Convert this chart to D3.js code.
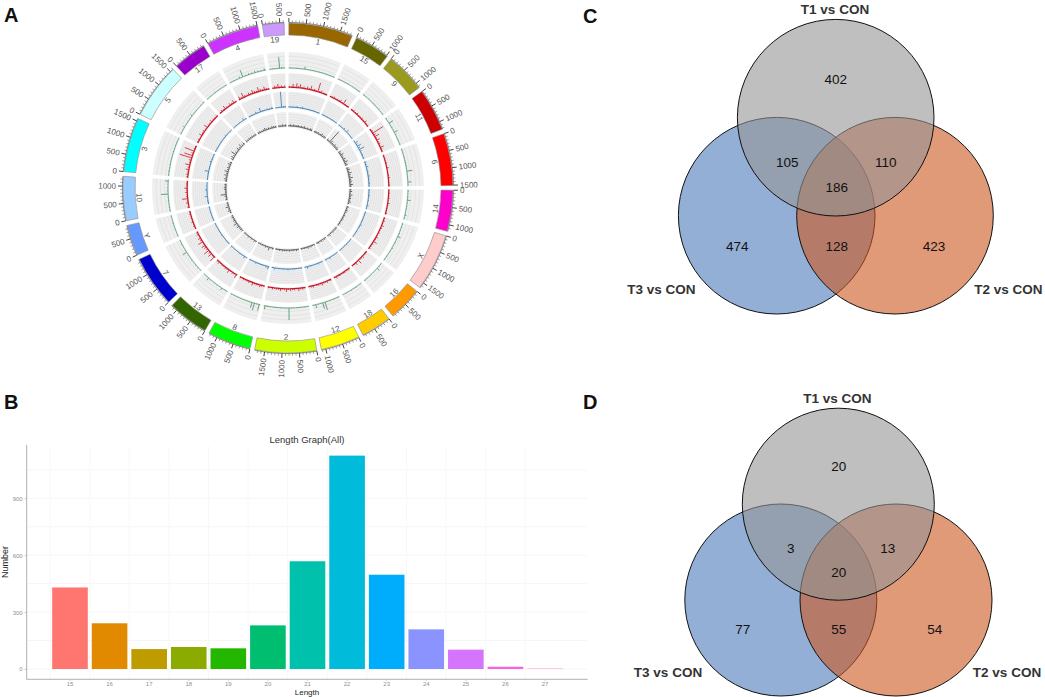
<!DOCTYPE html>
<html>
<head>
<meta charset="utf-8">
<title>Figure</title>
<script src="https://d3js.org/d3.v7.min.js" charset="utf-8"></script>
<style>
*{
	margin: 0;
	padding: 0;
}
body{
	background: #fff;
}
svg{
	display: block;
	font-family: "Liberation Sans", Arial, sans-serif;
}
</style>
</head>
<body>
<script>

// ---- panel A data, clockwise from the top
var chrNames = ['1','15','9','11','6','14','X','16','18','12','2','8','13','7','Y','10','3','5','17','4','19'];
var chrLengths = [1860,1025,1150,1230,1510,1190,1665,985,880,1125,1790,1255,1190,1490,895,1280,1575,1600,970,1520,625];
var chrColors = ['#996600','#666600','#999a1e','#cc0000','#ff0000','#ff00cc','#ffcccc','#ff9900','#ffcc00','#ffff00','#ccff00','#00ff00','#336600','#0000cc','#6699ff','#99ccff','#00ffff','#ccffff','#9900cc','#cc33ff','#cc99ff'];

// peak heights along each chromosome, % of the track height
var greenPeaks = [
	[3,2,4,2,3,16,3,2,4,3,2,3,3,2,4,3],
	[2,4,2,3,4,2,3,4,2,3],
	[3,2,4,3,2,4,2,5,3,2],
	[4,3,30,4,5,3,22,6,3,4,2,4],
	[3,4,2,4,3,6,4,2,35,3,4,3,22,2],
	[4,2,5,20,3,4,3,2,10,4],
	[3,4,2,5,18,3,4,2,6,3,2,4,3],
	[2,4,18,3,2,4,3,2,4],
	[3,2,4,2,4,3,4,2],
	[3,2,4,2,3,4,50,38,3,2,20,3],
	[3,4,2,4,3,2,4,75,3,2,4,3,4,2,3,5,22],
	[40,3,45,35,4,2,3,4,2,4,3,2,3],
	[2,3,14,2,4,3,2,4,18,3,2],
	[2,4,3,2,4,3,4,30,2,3,4,2],
	[3,2,4,3,4,2,4],
	[3,4,2,5,4,45,4,3,2,18],
	[2,4,3,4,2,4,3,5,2,4,3,2],
	[3,2,10,3,4,2,12,3,4,2,3,5],
	[2,4,3,6,4,3,2,4],
	[3,4,4,10,45,5,8,6,12,8,6,12],
	[3,4,3,4,70,8,5]
];
var redPeaks = [
	[10,8,24,6,30,12,26,8,14,6,18,10,28,6,14,8,65,10,16,6,8,5],
	[6,8,12,5,10,8,16,6,34,8,5,10],
	[6,10,8,14,8,6,12,8,18,5,8],
	[6,12,88,16,34,10,22,8,14,6,26,10,5],
	[5,8,4,10,5,14,6,4,8,12,5,6,10],
	[5,8,6,10,5,14,8,5,6,10],
	[8,12,6,16,10,5,10,6,14,8,26,10,6,12],
	[6,10,5,16,8,6,30,5,18,8,5],
	[5,10,6,12,8,5,10,6,16,5],
	[10,6,14,8,10,18,6,12,8,5,14,10,6],
	[8,14,10,20,6,12,10,16,8,22,10,6,18,10,12,8,14,6,10],
	[6,10,16,8,12,10,22,6,14,10,8,12,6,10],
	[26,8,12,6,24,10,14,8,10,6,16,10],
	[40,10,30,14,42,12,18,28,8,36,12,20,6,14,10],
	[5,10,6,12,5,8,6,10,5],
	[12,6,16,8,40,10,6,14,8,20,6,10,5],
	[10,14,8,22,12,34,10,16,88,60,14,70,10,8],
	[8,12,6,22,10,14,6,28,10,8,16,10,6,12],
	[6,14,8,26,10,6,16,10,22,8],
	[22,10,36,12,8,18,10,26,14,10,32,16,10,24,12,8],
	[6,16,10,26,8,14,6,12]
];
var bluePeaks = [
	[3,2,4,2,8,3,2,10,3,2,4,3,2,4,3,2,3],
	[2,4,2,4,3,2,6,3,2,4],
	[3,4,2,10,4,18,3,2,4,3],
	[4,18,8,26,12,36,10,5,8,4,6],
	[10,6,14,4,8,5,12,6,4,8,5],
	[4,3,8,4,5,3,10,4],
	[3,4,2,5,3,10,4,2,4,3,2],
	[2,4,3,8,4,2,5,3],
	[3,2,5,4,10,2,4],
	[4,2,8,3,4,2,4,3,14,2],
	[3,4,2,5,4,3,8,2,4,3,4,2,10,3],
	[18,10,3,4,2,4,8,3,2,4],
	[2,14,4,3,5,2,4,3,2,10],
	[3,4,2,4,3,5,2,4,3,2,4,3],
	[2,4,3,4,2,3],
	[3,5,2,18,4,2,12,3,4,2],
	[4,2,4,26,3,5,2,10,4,3,4],
	[3,4,2,4,5,2,3,8,4,2,3],
	[2,4,3,4,2,14,3],
	[3,5,4,12,4,26,6,4,8,5,10],
	[3,4,4,100,8,5]
];
var blackPeaks = [
	[8,12,6,14,8,10,12,7,12,8,14,6,10,7,12,14],
	[8,12,7,12,6,10,18,8,12,10],
	[12,8,100,20,14,10,18,12,16,12],
	[18,12,24,14,10,20,12,26,12,16],
	[14,20,10,24,14,12,26,12,18,10,22,12],
	[10,16,8,20,12,14,10,18,8],
	[12,8,14,10,6,12,8,12,10,7,12,8],
	[8,12,6,12,10,7,14,8],
	[6,10,8,12,6,12,8],
	[10,6,12,8,14,7,10,6,8],
	[8,12,6,10,7,12,6,10,8,12,7,10,6,8],
	[10,6,24,8,12,7,10,6,8],
	[8,12,6,10,7,12,8,6,10],
	[10,14,12,20,12,28,12,16,10,14,8],
	[8,18,12,24,12,10],
	[12,8,14,40,10,8,12,16,10,12],
	[12,18,10,22,12,26,12,16,10,20,12],
	[14,20,12,36,14,10,22,12,26,12,16],
	[12,8,14,10,12,8,12],
	[10,12,8,12,18,10,12,8,14,12,10],
	[12,8,14,10,12]
];

// ---- panel B data
var lengthCats = ['15','16','17','18','19','20','21','22','23','24','25','26','27'];
var lengthCounts = [430,241,105,116,109,230,568,1125,497,209,102,12,5];
var lengthColors = ['#FF7670','#E18A00','#BE9C00','#8CAB00','#24B700','#00BE70','#00C1AB','#00BBDA','#00ACFC','#8B93FF','#D575FE','#F962DD','#FFC4E2'];
var countTicks = [0,300,600,900];
var countGrid = [0,150,300,450,600,750,900,1050];

// ---- panels C and D data
var vennNames = ['T1 vs CON','T2 vs CON','T3 vs CON'];
var vennCountsC = [402,105,110,186,474,128,423];
var vennCountsD = [20,3,13,20,77,55,54];

var width = 1045;
var height = 697;

var svg = d3.select('body')
			.append('svg')
			.attr('width',width)
			.attr('height',height);

// panel letters
[['A',4,22],['B',4,409],['C',583,23],['D',583,409]].forEach(function(d){
	svg.append('text')
		.attr('x',d[1]).attr('y',d[2])
		.attr('font-size',20)
		.attr('font-weight','bold')
		.attr('fill','#111')
		.text(d[0]);
});

//---------- A: circos ----------
var cx = 288, cy = 188;
var gapDeg = 1.65, startDeg = 0.3;
var rad = Math.PI/180;
var bandIn = 153, bandOut = 165;

var total = d3.sum(chrLengths);
var perUnit = (360 - gapDeg*chrNames.length)/total;

// one angle scale for every chromosome
var sectors = [];
var cursor = startDeg;
chrNames.forEach(function(name,i){
	var end = cursor + chrLengths[i]*perUnit;
	sectors.push({
		name: name,
		i: i,
		len: chrLengths[i],
		color: chrColors[i],
		a0: cursor,
		a1: end,
		angle: d3.scaleLinear().domain([0,chrLengths[i]]).range([cursor*rad,end*rad])
	});
	cursor = end + gapDeg;
});

var circos = svg.append('g').attr('transform','translate('+cx+','+cy+')');
var arc = d3.arc();

function sectorArc(s,r0,r1){
	return arc({innerRadius:r0,outerRadius:r1,startAngle:s.a0*rad,endAngle:s.a1*rad});
}

function ringPath(s,r){
	return d3.lineRadial()(d3.range(0,21).map(function(q){
		return [(s.a0+(s.a1-s.a0)*q/20)*rad,r];
	}));
}

var trackDefs = [
	{r0:119,r1:136,base:120,color:'#3b8f5e',peaks:greenPeaks,grid:3,baseW:0.7},
	{r0:99.5,r1:115,base:100.8,color:'#cc1626',peaks:redPeaks,grid:7,baseW:1.2},
	{r0:79.5,r1:96.5,base:81,color:'#2f78b5',peaks:bluePeaks,grid:8,baseW:0.9},
	{r0:60.5,r1:76,base:62,color:'#444444',peaks:blackPeaks,grid:5,baseW:0.8}
];

trackDefs.forEach(function(t){
	var g = circos.append('g');
	var rScale = d3.scaleLinear().domain([0,100]).range([t.base,t.r1]);

	g.selectAll('path.bg').data(sectors).enter().append('path')
		.attr('class','bg')
		.attr('d',function(s){return sectorArc(s,t.r0,t.r1);})
		.attr('fill','#efefef');

	sectors.forEach(function(s){
		d3.range(1,t.grid+1).forEach(function(k){
			g.append('path')
				.attr('d',ringPath(s,t.r0 + (t.r1-t.r0)*k/(t.grid+1)))
				.attr('fill','none')
				.attr('stroke','#d6d6d6')
				.attr('stroke-width',0.5);
		});
		// baseline
		g.append('path')
			.attr('d',ringPath(s,t.base))
			.attr('fill','none')
			.attr('stroke',t.color)
			.attr('stroke-width',t.baseW);
		// peaks
		var vals = t.peaks[s.i];
		var pos = d3.scaleBand().domain(d3.range(vals.length)).range([0,s.len]);
		vals.forEach(function(v,j){
			var a = s.angle(pos(j)+pos.bandwidth()/2);
			var p0 = d3.pointRadial(a,t.base);
			var p1 = d3.pointRadial(a,rScale(v));
			g.append('line')
				.attr('x1',p0[0]).attr('y1',p0[1])
				.attr('x2',p1[0]).attr('y2',p1[1])
				.attr('stroke',t.color)
				.attr('stroke-width',0.8);
		});
	});
});

// chromosome bands
circos.selectAll('path.band').data(sectors).enter().append('path')
	.attr('class','band')
	.attr('d',function(s){return sectorArc(s,bandIn,bandOut);})
	.attr('fill',function(s){return s.color;})
	.attr('stroke','#8a8a8a')
	.attr('stroke-width',0.6);

// chromosome names, just inside the band
sectors.forEach(function(s){
	var mid = (s.a0+s.a1)/2;
	var p = d3.pointRadial(mid*rad,149);
	var rot = (mid<90 || mid>270) ? mid : mid-180;
	circos.append('text')
		.attr('transform','translate('+p[0]+','+p[1]+') rotate('+rot+')')
		.attr('text-anchor','middle')
		.attr('dy','0.35em')
		.attr('font-size',8)
		.attr('fill','#555')
		.text(s.name);
});

// ticks and position labels
sectors.forEach(function(s){
	circos.append('path')
		.attr('d',ringPath(s,bandOut+0.6))
		.attr('fill','none')
		.attr('stroke','#333')
		.attr('stroke-width',0.5);

	d3.range(0,s.len+1,100).forEach(function(v){
		var major = v%500===0;
		var a = s.angle(v);
		var p0 = d3.pointRadial(a,bandOut+0.6);
		var p1 = d3.pointRadial(a,bandOut+(major?5:2.8));
		circos.append('line')
			.attr('x1',p0[0]).attr('y1',p0[1])
			.attr('x2',p1[0]).attr('y2',p1[1])
			.attr('stroke',major?'#111':'#444')
			.attr('stroke-width',major?0.8:0.5);
		if(major){
			var deg = a/rad;
			var right = deg<180;
			var p = d3.pointRadial(a,bandOut+7);
			circos.append('text')
				.attr('transform','translate('+p[0]+','+p[1]+') rotate('+(right?deg-90:deg+90)+')')
				.attr('text-anchor',right?'start':'end')
				.attr('dy','0.35em')
				.attr('font-size',8)
				.attr('fill','#555')
				.text(v);
		}
	});
});

//---------- B: length bars ----------
var xLen = d3.scaleBand().domain(lengthCats).range([50.2,564.8]).paddingInner(0.1).paddingOuter(0.05);
var yLen = d3.scaleLinear().domain([0,900]).range([669,498.3]);
var axisY = 679.3, axisX = 26.7;

var bars = svg.append('g');

bars.selectAll('line.gy').data(countGrid).enter().append('line')
	.attr('class','gy')
	.attr('x1',axisX).attr('x2',587)
	.attr('y1',function(d){return yLen(d);})
	.attr('y2',function(d){return yLen(d);})
	.attr('stroke','#f6f6f6');

bars.selectAll('line.gx').data(lengthCats).enter().append('line')
	.attr('class','gx')
	.attr('x1',function(d){return xLen(d)+xLen.bandwidth()/2-xLen.step()/2;})
	.attr('x2',function(d){return xLen(d)+xLen.bandwidth()/2-xLen.step()/2;})
	.attr('y1',446).attr('y2',axisY)
	.attr('stroke','#f8f8f8');

bars.selectAll('rect').data(lengthCats).enter().append('rect')
	.attr('x',function(d){return xLen(d);})
	.attr('y',function(d,i){return yLen(lengthCounts[i]);})
	.attr('width',xLen.bandwidth())
	.attr('height',function(d,i){return yLen(0)-yLen(lengthCounts[i]);})
	.attr('fill',function(d,i){return lengthColors[i];});

var gx = bars.append('g')
	.attr('transform','translate(0,'+axisY+')')
	.call(d3.axisBottom(xLen).tickSize(1.5).tickPadding(1).tickSizeOuter(0));
var gy = bars.append('g')
	.attr('transform','translate('+axisX+',0)')
	.call(d3.axisLeft(yLen).tickValues(countTicks).tickSize(2).tickPadding(2));

[gx,gy].forEach(function(g){
	g.selectAll('.domain').remove();
	g.selectAll('line').attr('stroke','#aaa').attr('stroke-width',0.7);
	g.selectAll('text').attr('font-size',6).attr('fill','#8f8f8f').attr('font-family','"Liberation Sans", Arial, sans-serif');
});

bars.append('line').attr('x1',axisX).attr('x2',587.7).attr('y1',axisY).attr('y2',axisY).attr('stroke','#b0b0b0').attr('stroke-width',1);
bars.append('line').attr('x1',axisX).attr('x2',axisX).attr('y1',445).attr('y2',axisY).attr('stroke','#b0b0b0').attr('stroke-width',1);

bars.append('text').attr('x',307).attr('y',443).attr('text-anchor','middle').attr('font-size',9.5).attr('fill','#333').text('Length Graph(All)');
bars.append('text').attr('x',307).attr('y',695.2).attr('text-anchor','middle').attr('font-size',8).attr('fill','#222').text('Length');
bars.append('text').attr('transform','translate(8,562) rotate(-90)').attr('text-anchor','middle').attr('font-size',9).attr('fill','#222').text('Number');

//---------- C, D: venn ----------
function venn(cfg,counts){
	var g = svg.append('g');
	// blue first, orange over it, grey on top
	[{c:cfg.left,fill:'#4b7abb'},{c:cfg.right,fill:'#cb571e'},{c:cfg.top,fill:'#949494'}].forEach(function(d){
		g.append('circle')
			.attr('cx',d.c[0]).attr('cy',d.c[1]).attr('r',cfg.r)
			.attr('fill',d.fill)
			.attr('fill-opacity',0.6)
			.attr('stroke','#111')
			.attr('stroke-width',1);
	});
	counts.forEach(function(v,i){
		g.append('text')
			.attr('x',cfg.pos[i][0]).attr('y',cfg.pos[i][1])
			.attr('text-anchor','middle')
			.attr('dy','0.36em')
			.attr('font-size',13.5)
			.attr('fill','#111')
			.text(v);
	});
	vennNames.forEach(function(name,i){
		g.append('text')
			.attr('x',cfg.lab[i][0]).attr('y',cfg.lab[i][1])
			.attr('text-anchor','middle')
			.attr('dy','0.36em')
			.attr('font-size',13.5)
			.attr('font-weight','bold')
			.attr('fill','#333')
			.text(name);
	});
}

venn({
	r:98.3,
	top:[835.7,117.7], left:[776.7,215.7], right:[895,215.7],
	pos:[[835.7,78.7],[787.3,162.3],[885.7,162.3],[836.7,186.7],[737.3,245.7],[836.7,245.7],[934,245.7]],
	lab:[[835,8.7],[1008.3,289.3],[661.3,289.3]]
},vennCountsC);

venn({
	r:96,
	top:[838.3,504.2], left:[780.8,600], right:[896,600],
	pos:[[838.7,466.3],[790.7,547.7],[887.7,547.7],[838.7,572],[742.7,629.3],[838.7,629.3],[934.7,629.3]],
	lab:[[837.3,397.7],[1007,672.3],[668,672.3]]
},vennCountsD);

</script>
</body>
</html>
